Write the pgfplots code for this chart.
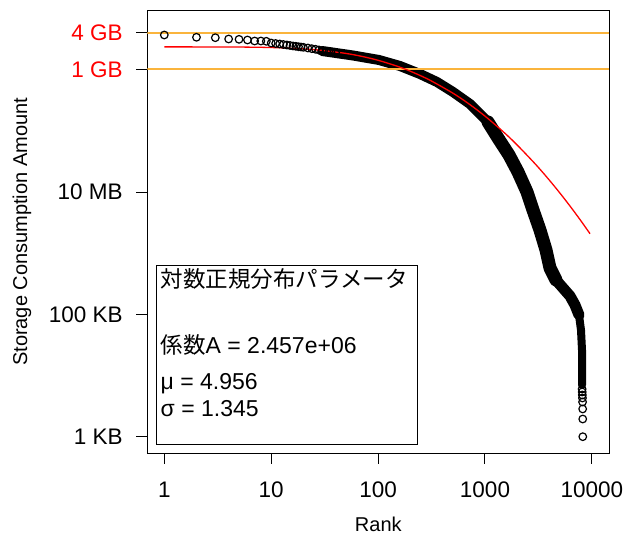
\documentclass[border=0pt]{standalone}
\usepackage{fontspec}
\setmainfont{Liberation Sans}
\newfontfamily\cjk{Noto Sans CJK JP}
\usepackage{pgfplots}
\pgfplotsset{compat=1.18}
\definecolor{rorange}{RGB}{250,180,60}

\begin{document}
\begin{tikzpicture}
\useasboundingbox (-147.3bp,-83bp) rectangle (487.7bp,453bp);
\begin{axis}[
  at={(0,0)}, anchor=south west,
  scale only axis, width=462bp, height=442.3bp,
  xmode=log, ymode=log,
  xmin=0.6934, xmax=14550, ymin=0.5404, ymax=9.63e6,
  xtick={1,10,100,1000,10000}, xticklabels={1,10,100,1000,10000},
  ytick={1,100,10240,1048576,4194304},
  yticklabels={1 KB,100 KB,10 MB,\textcolor{red}{1 GB},\textcolor{red}{4 GB}},
  xminorticks=false, yminorticks=false,
  tick align=outside, xtick pos=bottom, ytick pos=left, major tick length=11bp,
  every tick/.style={black, line width=1bp},
  axis line style={line width=1bp},
  tick label style={font=\fontsize{22.5bp}{26bp}\selectfont, inner sep=0pt},
  xticklabel style={anchor=center, yshift=-26bp},
  yticklabel style={anchor=east, xshift=-13.5bp},
  xlabel={Rank}, ylabel={Storage Consumption Amount},
  label style={font=\fontsize{20bp}{24bp}\selectfont},
  xlabel style={at={(axis description cs:0.5,-0.1605)}, anchor=center},
  ylabel style={at={(axis description cs:-0.2712,0.5)}, anchor=center},
]
% dense band of points (overlapping circles)
\addplot[black, line width=10bp, line cap=round, line join=round] coordinates {
 (29.9,2.104e6) (58.3,1.775e6) (102.0,1.498e6) (160.3,1.194e6) (246.6,8.83e5)
 (355.6,6.53e5) (502,4.477e5) (723.9,2.846e5) (1067,1.442e5)};
\addplot[black, line width=13bp, line cap=round, line join=round] coordinates {
 (1067,1.442e5) (1323,7.88e4) (1677,4.150e4) (2036,2.185e4) (2471,1.027e4)
 (2812,5205) (3269,2446) (3721,1150) (4055,583) (4615,370.6)};
\addplot[black, line width=11bp, line cap=round, line join=round] coordinates {
 (4615,370.6) (5364,274.0) (6238,202.6) (6949,144.2) (7575,98.9)};
\addplot[black, line width=8bp, line cap=round, line join=round] coordinates {
 (7575,98.9) (7908,56.1) (8081,26.38) (8081,7.04)};
% individual points
\addplot[only marks, mark=o, mark size=3.8bp, mark options={line width=1.2bp, black}] coordinates {
 (1,3.85e6) (2,3.53e6) (3,3.475e6) (4,3.31e6) (5,3.27e6) (6,3.187e6) (7,3.068e6)
 (8,3.068e6) (9,3.034e6) (10,2.845e6) (11,2.792e6) (12,2.740e6) (13,2.689e6)
 (14,2.638e6) (15,2.589e6) (16,2.541e6) (17,2.512e6) (18,2.474e6) (19,2.446e6)
 (20,2.419e6) (22,2.356e6) (24,2.295e6) (26,2.243e6) (28,2.185e6) (30,2.135e6)
 (33,2.080e6) (36,2.026e6) (40,1.965e6)
 (8100,6.05) (8120,5.41) (8140,4.83) (8160,4.31) (8180,3.71) (8200,2.85)
 (8210,1.95) (8220,1.0)};
% reference lines at 4 GB and 1 GB
\addplot[rorange, line width=2bp] coordinates {(0.6934,4194304) (14550,4194304)};
\addplot[rorange, line width=2bp] coordinates {(0.6934,1048576) (14550,1048576)};
% lognormal fit
\addplot[red, line width=1.3bp, smooth] coordinates {
 (1,2.4567e6) (2,2.4551e6) (3,2.4519e6) (5,2.4412e6) (7,2.4260e6) (10,2.3974e6)
 (15,2.3407e6) (20,2.2789e6) (30,2.1528e6) (50,1.9194e6) (70,1.7214e6)
 (100,1.4813e6) (150,1.1887e6) (200,9.818e5) (300,7.103e5) (500,4.292e5)
 (700,2.895e5) (1000,1.801e5) (1500,9.789e4) (2000,6.049e4) (3000,2.867e4)
 (4000,1.6056e4) (5000,9956) (6000,6609) (7000,4614) (8000,3347) (9600,2128)};
\end{axis}
% parameter box
\draw[line width=1.2bp] (9.4bp,8.5bp) rectangle (270bp,187.3bp);
\node[anchor=base west, inner sep=0pt, font=\fontsize{22.5bp}{26bp}\cjk] at (13.2bp,165bp) {対数正規分布パラメータ};
\node[anchor=base west, inner sep=0pt, font=\fontsize{23bp}{27bp}\selectfont] at (13.2bp,99bp) {{\fontsize{22.5bp}{26bp}\cjk 係数}A = 2.457e+06};
\node[anchor=base west, inner sep=0pt, font=\fontsize{23bp}{27bp}\selectfont] at (13.2bp,63bp) {μ = 4.956};
\node[anchor=base west, inner sep=0pt, font=\fontsize{23bp}{27bp}\selectfont] at (13.2bp,37bp) {σ = 1.345};
\end{tikzpicture}
\end{document}
